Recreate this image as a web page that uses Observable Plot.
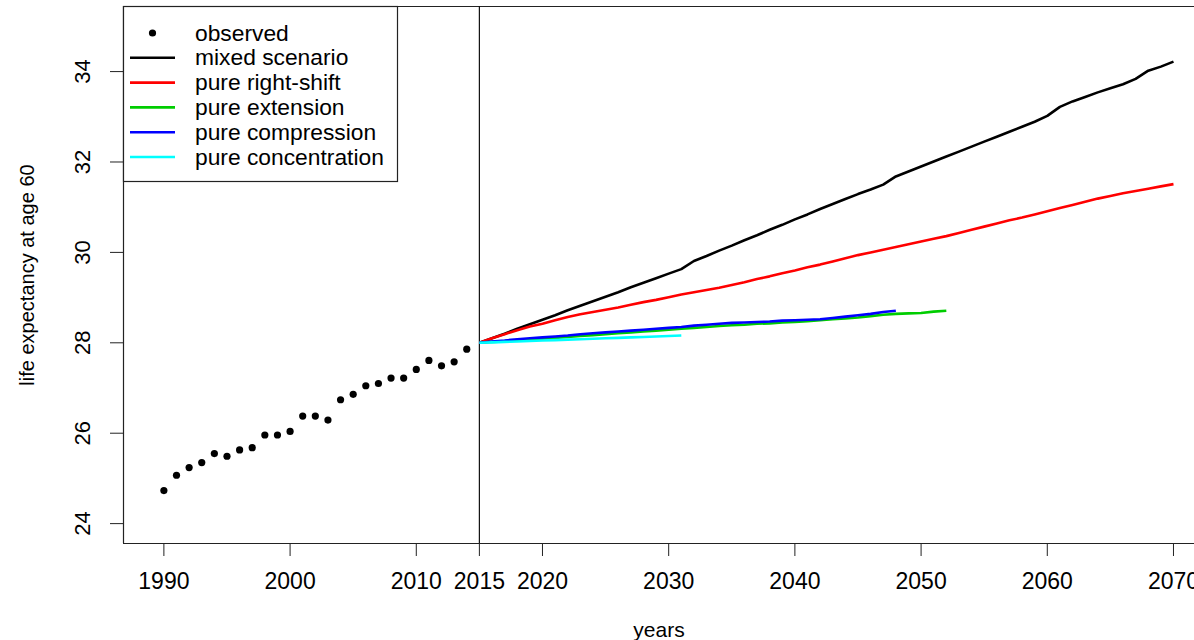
<!DOCTYPE html>
<html>
<head>
<meta charset="utf-8">
<script src="https://cdn.jsdelivr.net/npm/d3@7"></script>
<script src="https://cdn.jsdelivr.net/npm/@observablehq/plot@0.6"></script>
<style>
  html, body { margin: 0; padding: 0; background: #fff; }
  #chart svg { display: block; }
</style>
</head>
<body>
<div id="chart"></div>
<script>
// ---- data ----
const observedYears = [1990, 1991, 1992, 1993, 1994, 1995, 1996, 1997, 1998, 1999, 2000, 2001, 2002, 2003, 2004, 2005, 2006, 2007, 2008, 2009, 2010, 2011, 2012, 2013, 2014];
const observedValues = [24.73, 25.07, 25.24, 25.35, 25.55, 25.49, 25.63, 25.68, 25.96, 25.96, 26.04, 26.38, 26.38, 26.29, 26.74, 26.86, 27.05, 27.10, 27.22, 27.22, 27.41, 27.61, 27.49, 27.58, 27.86];

const projectionYears = [2015, 2016, 2017, 2018, 2019, 2020, 2021, 2022, 2023, 2024, 2025, 2026, 2027, 2028, 2029, 2030, 2031, 2032, 2033, 2034, 2035, 2036, 2037, 2038, 2039, 2040, 2041, 2042, 2043, 2044, 2045, 2046, 2047, 2048, 2049, 2050, 2051, 2052, 2053, 2054, 2055, 2056, 2057, 2058, 2059, 2060, 2061, 2062, 2063, 2064, 2065, 2066, 2067, 2068, 2069, 2070];

const mixedValues = [28.00, 28.10, 28.20, 28.31, 28.41, 28.51, 28.61, 28.72, 28.82, 28.92, 29.02, 29.12, 29.23, 29.33, 29.43, 29.53, 29.63, 29.81, 29.92, 30.04, 30.15, 30.27, 30.38, 30.50, 30.61, 30.73, 30.84, 30.96, 31.07, 31.18, 31.29, 31.39, 31.50, 31.68, 31.79, 31.90, 32.01, 32.12, 32.23, 32.34, 32.45, 32.56, 32.67, 32.78, 32.89, 33.02, 33.22, 33.34, 33.44, 33.54, 33.63, 33.72, 33.84, 34.02, 34.11, 34.22];
const rightShiftValues = [28.00, 28.10, 28.19, 28.28, 28.36, 28.42, 28.50, 28.57, 28.63, 28.68, 28.73, 28.78, 28.84, 28.90, 28.95, 29.01, 29.07, 29.12, 29.17, 29.22, 29.28, 29.34, 29.41, 29.47, 29.54, 29.60, 29.67, 29.73, 29.80, 29.87, 29.94, 30.00, 30.06, 30.12, 30.18, 30.24, 30.30, 30.36, 30.43, 30.50, 30.57, 30.64, 30.71, 30.77, 30.84, 30.91, 30.98, 31.05, 31.12, 31.19, 31.25, 31.31, 31.36, 31.41, 31.46, 31.51];
const extensionValues = [28.00, 28.02, 28.03, 28.05, 28.07, 28.09, 28.11, 28.13, 28.15, 28.17, 28.19, 28.21, 28.23, 28.25, 28.27, 28.29, 28.31, 28.33, 28.35, 28.37, 28.39, 28.40, 28.42, 28.43, 28.45, 28.46, 28.48, 28.50, 28.52, 28.54, 28.56, 28.59, 28.62, 28.64, 28.65, 28.66, 28.69, 28.71];
const compressionValues = [28.00, 28.03, 28.05, 28.08, 28.10, 28.12, 28.14, 28.16, 28.19, 28.21, 28.23, 28.25, 28.27, 28.29, 28.31, 28.33, 28.35, 28.38, 28.40, 28.42, 28.44, 28.45, 28.46, 28.47, 28.49, 28.50, 28.51, 28.52, 28.55, 28.58, 28.61, 28.64, 28.68, 28.71];
const concentrationValues = [28.00, 28.01, 28.02, 28.03, 28.04, 28.05, 28.06, 28.07, 28.08, 28.09, 28.10, 28.11, 28.12, 28.13, 28.14, 28.15, 28.16];

const seriesNames = ["mixed scenario", "pure right-shift", "pure extension", "pure compression", "pure concentration"];
const seriesColors = ["#000000", "#ff0000", "#00cd00", "#0000ff", "#00ffff"];
const seriesValues = [mixedValues, rightShiftValues, extensionValues, compressionValues, concentrationValues];
const observedLabel = "observed";

const xTicks = [1990, 2000, 2010, 2015, 2020, 2030, 2040, 2050, 2060, 2070];
const yTicks = [24, 26, 28, 30, 32, 34];
const xDomain = [1986.8, 2073.2];
const yDomain = [23.56, 35.44];
const splitYear = 2015;
const xTitle = "years";
const yTitle = "life expectancy at age 60";

// ---- build tables ----
const observed = observedYears.map((year, i) => ({year, value: observedValues[i]}));
const projections = seriesNames.flatMap((name, s) =>
  seriesValues[s].map((value, i) => ({year: projectionYears[i], value, name})));

const W = 1194, H = 640;
const mL = 123, mT = 6, mB = 97;
const font = "'Liberation Sans', Arial, Helvetica, sans-serif";

const chart = Plot.plot({
  width: W,
  height: H,
  marginLeft: mL,
  marginRight: 0,
  marginTop: mT,
  marginBottom: mB,
  style: {fontFamily: font, fontSize: "22px", background: "#fff", color: "#000", overflow: "hidden"},
  x: {domain: xDomain, range: [mL, mL + (xDomain[1] - xDomain[0]) * 12.62], axis: null},
  y: {domain: yDomain, axis: null},
  color: {domain: seriesNames, range: seriesColors},
  marks: [
    // plot box (left, bottom, top)
    Plot.ruleX([xDomain[0]], {stroke: "#222", strokeWidth: 1.2}),
    Plot.ruleY([yDomain[0], yDomain[1]], {stroke: "#222", strokeWidth: 1.2}),
    // x axis ticks + labels
    Plot.axisX(xTicks, {tickSize: 13, tickPadding: 16, fontSize: 23, stroke: "#222", fill: "#000", label: null, tickFormat: d => String(d)}),
    // y axis ticks
    Plot.axisY(yTicks, {tickSize: 13, tickFormat: () => "", label: null, stroke: "#222"}),
    Plot.text(yTicks, {y: d => d, text: d => String(d), frameAnchor: "left", textAnchor: "middle", lineAnchor: "middle", dx: -41, rotate: -90, fontSize: 22, fill: "#000"}),
    // axis titles
    Plot.text([xTitle], {text: d => d, frameAnchor: "bottom", textAnchor: "middle", dy: 93, fontSize: 21, fill: "#000"}),
    Plot.text([yTitle], {text: d => d, frameAnchor: "left", textAnchor: "middle", lineAnchor: "middle", dx: -96, rotate: -90, fontSize: 20, fill: "#000"}),
    // vertical split line
    Plot.ruleX([splitYear], {stroke: "#111", strokeWidth: 1.2}),
    // observed
    Plot.dot(observed, {x: "year", y: "value", r: 3.6, fill: "#000", stroke: null}),
    // projections
    Plot.line(projections, {x: "year", y: "value", z: "name", stroke: "name", strokeWidth: 2.6, strokeLinejoin: "round", strokeLinecap: "butt"})
  ]
});

// ---- legend (top-left, inside the plot box) ----
const svg = d3.select(chart);
const lg = svg.append("g").attr("font-family", font).attr("font-size", 22.8).attr("text-anchor", "start");
const boxX = 123.5, boxY = 6.5, boxW = 274, boxH = 175;
lg.append("rect").attr("x", boxX).attr("y", boxY).attr("width", boxW).attr("height", boxH)
  .attr("fill", "#fff").attr("stroke", "#222").attr("stroke-width", 1.2);
const rowY0 = 33, rowStep = 24.8, symX0 = 130, symX1 = 175, textX = 195;
const legendItems = [{label: observedLabel, type: "dot", color: "#000"}]
  .concat(seriesNames.map((n, i) => ({label: n, type: "line", color: seriesColors[i]})));
legendItems.forEach((it, i) => {
  const cy = rowY0 + i * rowStep;
  if (it.type === "dot") {
    lg.append("circle").attr("cx", (symX0 + symX1) / 2).attr("cy", cy).attr("r", 3.6).attr("fill", it.color);
  } else {
    lg.append("line").attr("x1", symX0).attr("x2", symX1).attr("y1", cy).attr("y2", cy)
      .attr("stroke", it.color).attr("stroke-width", 2.6);
  }
  lg.append("text").attr("x", textX).attr("y", cy + 7.5).attr("fill", "#000")
    .attr("text-anchor", "start").text(it.label);
});

document.getElementById("chart").appendChild(chart);
</script>
</body>
</html>
